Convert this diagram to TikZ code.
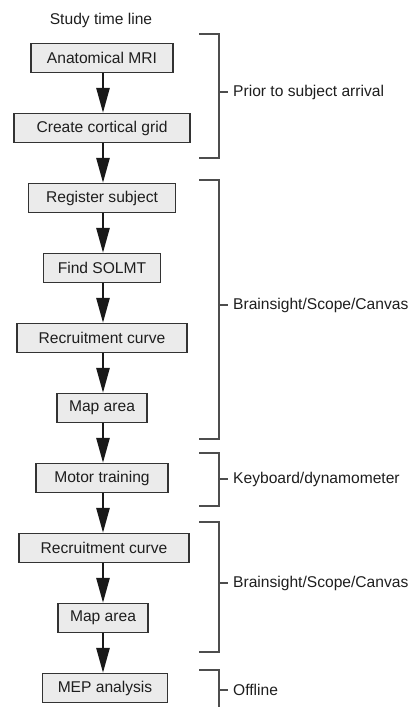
\documentclass[tikz,border=0pt]{standalone}
\usepackage{fontspec}
\setmainfont{Liberation Sans}
\usetikzlibrary{arrows.meta}
\definecolor{boxfill}{HTML}{EBEBEB}
\definecolor{boxline}{HTML}{333333}
\definecolor{brline}{HTML}{4D4D4D}
\definecolor{txt}{HTML}{1E1E1E}
\begin{document}
\begin{tikzpicture}[x=1pt,y=-1pt,
  every node/.style={font=\fontsize{15.6}{18}\selectfont, text=txt},
  stepbox/.style={draw=boxline, fill=boxfill, line width=1.2pt, minimum height=29pt, inner xsep=0pt, inner ysep=0pt, anchor=center},
  flow/.style={draw=black!90, line width=2.6pt, -{Triangle[length=25pt,width=13pt]}, shorten >=0pt},
  brack/.style={draw=brline, line width=1.2pt},
  lab/.style={anchor=west, inner sep=0pt}]
\useasboundingbox (0,0) rectangle (415,707);
\node (title) at (101,20) {Study time line};
\node[stepbox, minimum width=142pt] (a) at (102,58) {Anatomical MRI};
\node[stepbox, minimum width=176pt] (b) at (102,128) {Create cortical grid};
\node[stepbox, minimum width=147pt] (c) at (102,198) {Register subject};
\node[stepbox, minimum width=117pt] (d) at (102,268) {Find SOLMT};
\node[stepbox, minimum width=170pt] (e) at (102,338) {Recruitment curve};
\node[stepbox, minimum width=90pt] (f) at (102,408) {Map area};
\node[stepbox, minimum width=132pt] (g) at (102,478) {Motor training};
\node[stepbox, minimum width=170pt] (h) at (104,548) {Recruitment curve};
\node[stepbox, minimum width=90pt] (i) at (103,618) {Map area};
\node[stepbox, minimum width=125pt] (j) at (105,688) {MEP analysis};
\foreach \u/\v in {a/b,b/c,c/d,d/e,e/f,f/g,g/h,h/i,i/j}
  \draw[flow] (\u.south -| 103,0) -- (\v.north -| 103,0);
% brackets
\coordinate (b1t) at (199,34); \coordinate (b1b) at (199,158);
\coordinate (b2t) at (199,180); \coordinate (b2b) at (199,439);
\coordinate (b3t) at (199,453); \coordinate (b3b) at (199,506);
\coordinate (b4t) at (199,522); \coordinate (b4b) at (199,652);
\coordinate (b5t) at (199,670); \coordinate (b5b) at (219,710);
\draw[brack] (b1t) -- ++(20,0) |- (b1b);
\draw[brack] (b2t) -- ++(20,0) |- (b2b);
\draw[brack] (b3t) -- ++(20,0) |- (b3b);
\draw[brack] (b4t) -- ++(20,0) |- (b4b);
\draw[brack] (b5t) -- ++(20,0) -- (b5b);
\node[lab] (l1) at (233,92) {Prior to subject arrival};
\node[lab] (l2) at (233,305) {Brainsight/Scope/Canvas};
\node[lab] (l3) at (233,479) {Keyboard/dynamometer};
\node[lab] (l4) at (233,583) {Brainsight/Scope/Canvas};
\node[lab] (l5) at (233,690) {Offline};
\foreach \l/\y in {l1/92,l2/305,l3/479,l4/583,l5/690}
  \draw[brack] (219,\y) -- ([xshift=-5pt]\l.west);
\end{tikzpicture}
\end{document}
